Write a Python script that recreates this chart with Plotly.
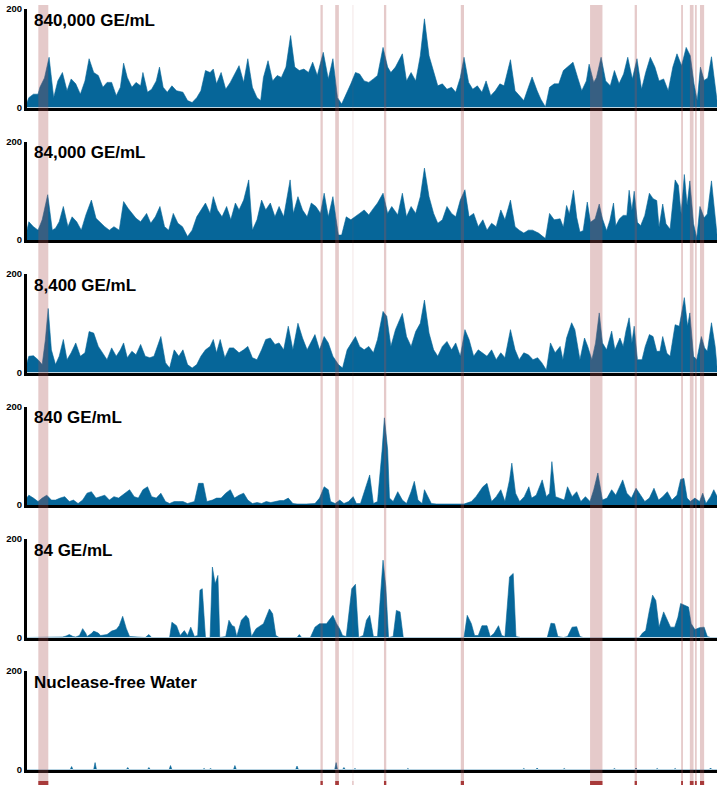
import plotly.graph_objects as go

# Genome position in 200-bp bins (0..150 = ~30 kb); coverage depth (0..200)
panel_labels = ["840,000 GE/mL", "84,000 GE/mL", "8,400 GE/mL", "840 GE/mL", "84 GE/mL", "Nuclease-free Water"]

cov_840000 = [(0,10),(0.4,20),(1.4,27),(2.4,27),(2.8,41),(3.8,60),(4.8,102),(5.8,20),(6.7,54),(7.7,71),
 (8.7,34),(9.6,58),(10.6,48),(11.6,27),(12.6,54),(13.5,99),(14.5,71),(15.5,65),(16.5,41),(17.4,51),
 (18.4,51),(19.4,24),(20.3,41),(21,90),(21.8,61),(22.8,41),(23.7,51),(24.7,44),(25.2,71),(26.2,31),
 (27.1,37),(28.1,54),(28.8,82),(29.6,41),(30.5,31),(31.5,44),(32.5,34),(33.9,31),(34.9,14),(35.9,10),
 (36.9,20),(37.8,34),(38.8,75),(39.8,71),(40.5,78),(41.2,48),(42.2,71),(43.2,37),(44.2,51),(45.1,68),
 (46.1,85),(47.1,51),(48,99),(49,41),(50,20),(50.8,14),(51.4,61),(52.4,95),(53.4,54),(54.4,65),
 (55.3,61),(56.3,82),(57.3,146),(58.2,82),(59.2,75),(60.2,78),(61.2,71),(62.1,92),(63.1,65),(64.4,112),
 (65.5,58),(66.5,99),(67.5,20),(68.4,7),(69.4,27),(70.4,48),(71.4,71),(72.3,68),(73.3,54),(74.3,51),
 (75.3,58),(76.2,65),(77.4,122),(78.4,82),(79.1,71),(80.1,82),(81.6,109),(82.5,54),(83.5,71),(84.5,54),
 (85.5,105),(86.4,180),(87.4,105),(88.4,71),(89.3,44),(90.3,48),(91.3,37),(92.3,41),(93.2,31),(94.2,61),
 (95,102),(96,51),(96.9,37),(97.9,44),(98.9,31),(99.8,54),(100.8,24),(101.8,34),(102.8,48),(103.7,44),
 (105.1,97),(106.1,34),(107,24),(108,14),(109,41),(109.8,62),(110.9,34),(111.7,17),(112.7,1),(113.6,41),
 (114.6,48),(115.6,48),(116.6,75),(117.5,82),(118.7,92),(119.7,61),(120.6,34),(121.6,54),(122.2,88),(123.2,51),
 (123.8,61),(124.8,102),(125.8,54),(126.8,44),(127.7,75),(128.7,48),(129.7,68),(130.6,102),(131.6,58),(132.6,99),
 (133.6,37),(134.5,71),(135.5,102),(136.5,82),(137.4,54),(138.4,58),(139.4,34),(140.4,82),(141.3,109),(142.3,85),
 (143.3,122),(144.2,105),(145,48),(145.7,14),(146.4,82),(147.2,55),(148,60),(148.8,103),(149.6,40),(150.2,0)]

cov_84000 = [(0,20),(0.4,37),(1.4,27),(2.4,20),(3.3,41),(4.5,92),(5.5,20),(6.2,24),(7.0,37),(7.9,68),
 (8.9,27),(9.8,47),(10.8,37),(11.8,20),(12.8,51),(14,81),(15,44),(16,34),(16.9,27),(17.9,20),
 (18.9,27),(20.05,20),(21,78),(22,64),(22.8,54),(23.7,44),(24.7,37),(26,54),(26.9,34),(27.9,47),
 (28.9,68),(29.9,27),(30.8,20),(31.8,54),(32.8,34),(33.8,27),(34.9,7),(35.9,20),(36.9,47),(37.8,61),
 (38.8,75),(39.8,54),(40.5,88),(41.4,61),(42.4,47),(43.4,68),(44.3,41),(45.3,75),(46.1,61),(47.1,81),
 (48.2,122),(49,20),(50,41),(51,81),(51.9,61),(52.9,75),(53.9,47),(54.8,68),(55.8,47),(57.2,122),
 (57.9,54),(58.9,88),(59.9,61),(60.9,47),(61.8,75),(62.8,68),(63.8,54),(64.6,95),(65.5,47),(66.5,88),
 (67.7,10),(68.4,10),(69.4,47),(70.4,41),(71.4,47),(72.3,54),(73.3,61),(74.3,51),(75.3,64),(76.2,75),
 (77.4,95),(78.4,54),(79.3,68),(80.6,51),(81.6,95),(82.5,47),(83.5,68),(84.5,54),(85.5,88),(86.4,146),
 (87.4,88),(88.4,54),(89.3,34),(90.3,41),(91.3,68),(92.3,54),(93.2,47),(94.2,81),(95.2,102),(96.1,47),
 (97.1,54),(98.1,27),(99.1,41),(100,20),(101,34),(102,27),(103,61),(103.9,41),(105.1,81),(106.1,27),
 (107,20),(108,14),(109,20),(109.9,20),(111.2,14),(112.7,3),(113.6,54),(114.6,41),(115.9,43),(116.6,26),
 (117.3,70),(117.9,53),(118.8,101),(119.5,46),(120.2,16),(120.9,19),(121.8,77),(122.5,36),(123.5,43),(124.4,73),
 (125.1,43),(126,19),(126.7,39),(127.5,75),(128,29),(128.8,43),(129.6,50),(130.4,50),(130.9,101),(131.5,60),
 (132,99),(132.7,36),(133.4,29),(134.3,50),(135.3,95),(136.1,84),(136.9,80),(137.4,26),(138.2,73),(138.9,33),
 (139.8,22),(140.9,122),(141.6,111),(142.2,53),(142.9,133),(143.5,70),(144.1,120),(144.9,33),(145.6,4),(146.3,68),
 (147.2,45),(147.9,53),(148.8,120),(149.6,53),(150.1,2)]

cov_8400 = [(0,20),(0.4,33),(1.4,34),(2.4,26),(3.3,16),(4.0,67),(4.6,130),(5.3,46),(6.2,16),(7.0,33),
 (7.9,67),(8.7,26),(9.6,40),(10.6,60),(11.6,33),(12.6,40),(13.5,83),(14.5,80),(15.5,53),(16.5,40),
 (17.4,26),(18.4,50),(19.4,33),(20.3,46),(21,60),(21.8,30),(22.8,43),(23.7,36),(24.7,57),(25.7,33),
 (26.7,30),(27.6,33),(29.1,73),(30.1,20),(31,9),(32,46),(33,33),(33.9,46),(34.9,16),(35.9,9),
 (36.9,16),(37.8,33),(38.8,46),(39.8,53),(40.5,67),(41.2,40),(42,67),(43,30),(44,50),(44.9,50),
 (46.1,40),(47.1,46),(48,53),(49,30),(50,26),(51,46),(51.9,67),(52.9,70),(53.9,57),(54.8,60),
 (55.8,46),(56.8,94),(57.8,46),(58.9,100),(59.9,70),(60.9,46),(61.6,60),(62.6,77),(63.6,46),(64.6,73),
 (65.5,60),(66.5,33),(67.7,16),(68.6,9),(69.6,46),(70.6,60),(71.4,73),(72.3,53),(73.3,46),(74.3,53),
 (75.3,40),(76.2,67),(77.4,124),(78.2,114),(79.1,53),(80.1,87),(81.1,107),(81.6,120),(82.5,73),(83.5,53),
 (84.5,83),(85.5,100),(86.4,147),(87.4,80),(88.4,46),(89.3,33),(90.3,53),(91.3,63),(92.3,46),(93.2,60),
 (94.2,33),(95.2,87),(96.1,67),(97.1,33),(98.1,46),(99.1,40),(100,33),(101,46),(102,26),(103,40),
 (103.9,30),(105.1,87),(106.1,46),(107,26),(108,40),(109,36),(110,26),(111,30),(111.9,20),(112.9,5),
 (113.8,60),(114.8,40),(115.9,53),(116.5,26),(117.3,70),(118.4,101),(119.1,87),(120.2,26),(121.2,70),(121.9,53),
 (122.8,26),(123.6,60),(124.4,121),(125.1,60),(126,46),(127.1,84),(127.8,46),(128.9,70),(129.6,53),(130.2,84),
 (130.9,111),(131.5,60),(132,94),(132.7,26),(133.7,26),(134.4,53),(135.3,77),(136.1,73),(136.9,43),(137.6,43),
 (138.2,73),(139.1,39),(139.8,33),(140.9,97),(141.8,94),(142.9,152),(143.6,94),(144.1,121),(144.9,33),(145.6,26),
 (146.6,73),(147.3,50),(147.9,43),(148.8,101),(149.6,53),(150.1,2)]

cov_840 = [(0,15),(0.4,20),(1.4,14),(2.4,7),(3.3,14),(4.3,20),(5.3,10),(6.2,10),(7.2,14),(8.2,17),
 (9.2,7),(10.1,10),(11.1,3),(12.1,10),(13.05,24),(14,27),(15,14),(16,17),(16.9,20),(17.9,10),
 (18.9,17),(19.9,14),(20.8,20),(22.3,31),(23.3,17),(24.2,14),(25.2,31),(26.2,37),(27.1,17),(28.1,14),
 (29.1,24),(30.1,7),(31,3),(32,7),(33,7),(33.9,7),(34.9,3),(36.4,7),(37.3,44),(38.3,44),
 (39.1,7),(40.3,10),(41.2,14),(42.2,14),(43.2,24),(44.2,31),(45.1,14),(46.1,20),(47.1,24),(48,10),
 (49,3),(50,5),(51,3),(52,7),(53,5),(54,7),(55,9),(55.8,9),(56.8,14),(57.8,3),
 (58.7,2),(60.7,2),(62.6,3),(63.6,14),(64.6,37),(65.5,31),(66,7),(67,3),(68,10),(68.9,3),
 (69.9,7),(70.9,17),(71.6,3),(72.5,3),(73.8,44),(74.5,61),(75.3,3),(76.2,7),(77.2,112),(77.7,177),
 (78.4,112),(78.8,14),(79.6,7),(80.6,27),(81.6,10),(82.5,3),(83.5,27),(84.2,48),(85,10),(85.9,3),
 (86.4,31),(87.1,17),(87.9,3),(89,2),(92,2),(95,2),(96.6,7),(97.6,17),(99.1,37),(100,44),
 (101,7),(102,17),(103,31),(103.9,7),(104.9,51),(105.4,85),(106.2,24),(107.1,7),(108.1,17),(109.1,37),
 (109.7,14),(110.7,20),(112,51),(112.9,17),(113.6,24),(114.1,88),(114.9,17),(115.9,14),(116.8,10),(117.5,37),
 (118.5,17),(119.5,27),(120.4,7),(121.4,17),(122.4,7),(123.2,31),(124.1,65),(125.1,10),(126.1,14),(127.1,31),
 (128,20),(129.5,51),(130.4,24),(131.4,14),(132.4,34),(133.4,20),(134.3,7),(135.3,14),(136.3,34),(137.3,10),
 (138.2,17),(139.2,27),(140.2,10),(141.3,20),(142.1,52),(142.8,54),(143.5,14),(144.2,7),(145.2,14),(146.2,7),
 (146.9,24),(147.6,3),(148.6,17),(149.3,31),(150.2,14)]

cov_84 = [(0,0),(7.7,1),(8.5,3),(9.2,6),(10.0,2),(10.6,1),(11.4,4),(12.1,18),(12.8,8),(13.05,2),
 (14,8),(14.5,13),(15.5,9),(16,4),(17.4,6),(18.4,13),(19.4,16),(20.05,24),(20.8,43),(21.6,18),
 (22.3,2),(25.7,0),(26.5,6),(27.1,0),(31,0),(31.5,31),(32.5,24),(33.3,4),(34.2,14),(34.9,4),
 (35.6,21),(36.4,2),(37.1,4),(37.6,96),(38.1,99),(38.8,0),(39.8,0),(40.3,143),(40.9,109),(41.5,126),
 (41.9,0),(43.2,2),(43.9,35),(44.6,24),(45.1,22),(45.6,2),(46.6,35),(47.6,45),(48.2,38),(48.8,2),
 (49.8,18),(50.8,24),(51.4,28),(52.7,58),(53.4,48),(54.1,4),(54.8,0),(58.7,0),(59.2,6),(59.7,0),
 (61.6,0),(62.6,21),(63.6,28),(65.1,28),(66.5,45),(67.3,28),(67.96,18),(68.6,4),(69.4,2),(70.6,99),
 (71.4,108),(72.1,0),(73.1,4),(73.8,35),(74.5,45),(75.3,2),(76.2,2),(77.4,157),(78,103),(78.6,0),
 (79.6,2),(80.3,55),(81.1,52),(81.8,0),(95,0),(95.7,45),(96.6,28),(97.3,4),(98.1,4),(98.9,24),
 (100,24),(100.7,2),(101.5,8),(102.5,24),(103.2,4),(103.9,2),(104.9,123),(105.7,130),(106.3,2),(107.3,0),
 (113.1,0),(113.9,29),(114.7,28),(115.4,2),(116.6,0),(117.5,2),(118.5,21),(119.5,22),(120.2,2),(120.9,0),
 (133.1,0),(133.8,9),(134.5,14),(135.3,55),(136,86),(136.7,75),(137.4,21),(138.4,52),(139.2,35),(139.9,21),
 (140.8,21),(141.5,41),(142.1,69),(143.1,65),(143.8,62),(144.4,28),(145.2,16),(146.2,20),(147.2,21),(147.9,2),
 (148.6,0),(150.2,0)]

cov_water = [(0,0),(9.4,0),(9.7,6),(10,0),(14.5,0),(14.8,14),(15.1,0),(21.6,0),(21.9,4),(22.2,0),
 (26.2,0),(26.5,4),(26.8,0),(30.9,0),(31.2,8),(31.5,0),(38.2,0),(38.5,2),(38.8,0),(39.6,0),
 (39.9,2),(40.2,0),(44.9,0),(45.2,8),(45.5,0),(58.4,0),(58.7,7),(59,0),(66.9,0),(67.2,14),
 (67.5,0),(68.6,0),(68.9,4),(69.2,0),(71,0),(71.3,2),(71.6,0),(74.7,0),(75,1),(75.3,0),
 (82.5,0),(82.8,2),(83.1,0),(107.7,0),(108,2),(108.3,0),(110.6,0),(110.9,3),(111.2,0),(116.5,0),
 (116.8,2),(117.1,0),(127.4,0),(127.7,2),(128,0),(132.1,0),(132.4,3),(132.7,0),(136.7,0),(137,2),
 (137.3,0),(140.6,0),(140.9,2),(141.2,0),(148.3,0),(148.6,3),(148.9,0),(150.2,0)]

coverage = [cov_840000, cov_84000, cov_8400, cov_840, cov_84, cov_water]

# Highlighted regions (bin units) and whether they are faint
region_start = [2.46, 63.8, 67.0, 70.7, 77.6, 94.3, 122.4, 132.1, 142.2, 144.1, 145.2, 146.3]
region_end   = [4.63, 64.3, 67.8, 71.0, 78.1, 95.0, 125.1, 132.6, 142.6, 144.9, 145.6, 147.2]
region_faint = [False, False, False, True, False, False, False, False, False, False, False, False]

y_ticks = [0, 200]
y_tick_text = ["0", "200"]

# ---------------- figure ----------------
W, H = 721, 788
BLUE = "#066699"
FONT = "Liberation Sans, Arial, sans-serif"
panel_top_px = [9, 141.5, 274, 406.5, 539, 671]
panel_h_px = 98.5
x_dom = [27 / W, 717 / W]

fig = go.Figure()
layout = dict(width=W, height=H, margin=dict(l=0, r=0, t=0, b=0, autoexpand=False),
              paper_bgcolor="white", plot_bgcolor="rgba(0,0,0,0)", showlegend=False)
annotations = []
for k, (lab, cov) in enumerate(zip(panel_labels, coverage)):
    n = k + 1
    xs = [p for p, v in cov]
    ys = [v for p, v in cov]
    fig.add_trace(go.Scatter(x=xs, y=ys, mode="lines", fill="tozeroy",
                             line=dict(color=BLUE, width=0.6), fillcolor=BLUE,
                             xaxis=f"x{n}", yaxis=f"y{n}", hoverinfo="skip"))
    top = panel_top_px[k]
    bot = top + panel_h_px
    layout[f"xaxis{n}"] = dict(domain=x_dom, range=[0, 150], anchor=f"y{n}", automargin=False,
                               showline=True, linewidth=3, linecolor="black",
                               showticklabels=False, ticks="", showgrid=False, zeroline=False,
                               fixedrange=True)
    layout[f"yaxis{n}"] = dict(domain=[1 - bot / H, 1 - top / H], range=[0, 200], anchor=f"x{n}",
                               automargin=False,
                               showline=True, linewidth=3, linecolor="black",
                               tickvals=y_ticks, ticktext=y_tick_text, ticks="",
                               tickfont=dict(family=FONT, size=9.5, color="black", weight="bold"),
                               showgrid=False, zeroline=False, fixedrange=True)
    annotations.append(dict(text=lab, xref="paper", yref="paper", x=32 / W, y=1 - (top - 0.5) / H,
                            xanchor="left", yanchor="top", showarrow=False,
                            font=dict(family=FONT, size=17, color="black", weight="bold")))

shapes = []
band_top = 1 - 5 / H
band_bot = 1 - 785 / H
mark_top = 1 - 781 / H
for s, e, faint in zip(region_start, region_end, region_faint):
    shapes.append(dict(type="rect", xref="x", yref="paper", x0=s, x1=e, y0=band_bot, y1=band_top,
                       fillcolor="rgba(168,78,78,0.10)" if faint else "rgba(168,78,78,0.30)",
                       line=dict(width=0), layer="above"))
    shapes.append(dict(type="rect", xref="x", yref="paper", x0=s, x1=e, y0=band_bot, y1=mark_top,
                       fillcolor="rgba(168,58,58,0.25)" if faint else "#a83a3a",
                       line=dict(width=0), layer="above"))

layout["annotations"] = annotations
layout["shapes"] = shapes
fig.update_layout(**layout)
fig.write_html("out.html", config={"displayModeBar": False, "staticPlot": True},
               post_script="document.body.style.margin='0';document.body.style.padding='0';")
